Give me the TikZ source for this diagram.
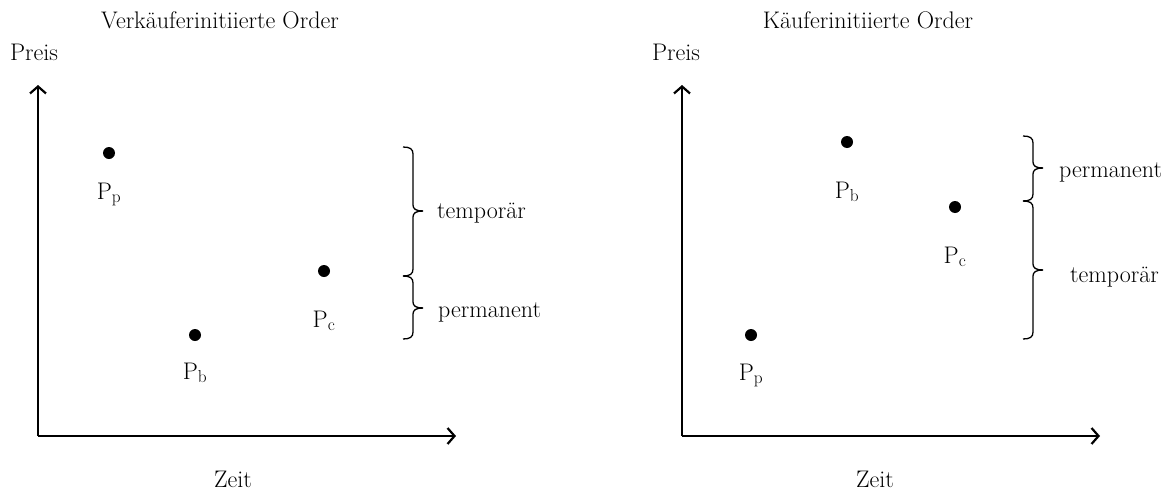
\documentclass[tikz,border=0pt]{standalone}
\usetikzlibrary{arrows.meta}
\newcommand{\vbrc}[4]{%
  \draw[brc] (#1-10,#2) .. controls (#1-3,#2) and (#1,#2+2) .. (#1,#2+7) -- (#1,#3-6) .. controls (#1,#3-2) and (#1+3,#3) .. (#1+10,#3);
  \draw[brc] (#1+10,#3) .. controls (#1+3,#3) and (#1,#3+2) .. (#1,#3+6) -- (#1,#4-7) .. controls (#1,#4-2) and (#1-3,#4) .. (#1-10,#4);}
\begin{document}
\begin{tikzpicture}[x=1pt,y=-1pt,
  txt/.style={font=\fontsize{24}{28}\selectfont, inner sep=0pt, anchor=base},
  lbl/.style={txt, anchor=base west},
  dot/.style={circle, fill=black, minimum size=12pt, inner sep=0pt},
  axis/.style={line width=2.2pt, -{Straight Barb[length=7pt,width=16pt]}},
  brc/.style={line width=1.3pt}]
\useasboundingbox (0,0) rectangle (1173,490);
% ---------- left panel ----------
\node[txt] (t1) at (220,28) {Verkäuferinitiierte Order};
\node[txt] (py1) at (34,60) {Preis};
\node[txt] (z1) at (233,487) {Zeit};
\coordinate (o1) at (38,436);
\coordinate (yt1) at (38,85);
\coordinate (xt1) at (456,436);
\draw[axis] (o1) -- (yt1);
\draw[axis] (o1) -- (xt1);
\node[dot] (pp1) at (109,153) {};
\node[dot] (pb1) at (195,335) {};
\node[dot] (pc1) at (324,271) {};
\node[txt] (lpp1) at (109,199) {P$_{\mathrm{p}}$};
\node[txt] (lpb1) at (195,379) {P$_{\mathrm{b}}$};
\node[txt] (lpc1) at (324,327) {P$_{\mathrm{c}}$};
\vbrc{413}{147}{211}{276}
\vbrc{413}{276}{308}{339}
\node[lbl] (tmp1) at (437,218) {temporär};
\node[lbl] (prm1) at (438,317) {permanent};
% ---------- right panel ----------
\node[txt] (t2) at (868,28) {Käuferinitiierte Order};
\node[txt] (py2) at (676,60) {Preis};
\node[txt] (z2) at (875,487) {Zeit};
\coordinate (o2) at (682,436);
\coordinate (yt2) at (682,85);
\coordinate (xt2) at (1100,436);
\draw[axis] (o2) -- (yt2);
\draw[axis] (o2) -- (xt2);
\node[dot] (pb2) at (847,142) {};
\node[dot] (pc2) at (955,207) {};
\node[dot] (pp2) at (751,335) {};
\node[txt] (lpb2) at (847,198) {P$_{\mathrm{b}}$};
\node[txt] (lpc2) at (955,263) {P$_{\mathrm{c}}$};
\node[txt] (lpp2) at (751,380) {P$_{\mathrm{p}}$};
\vbrc{1033}{136}{168}{201}
\vbrc{1033}{201}{270}{339}
\node[lbl] (prm2) at (1059,177) {permanent};
\node[lbl] (tmp2) at (1070,282) {temporär};
\end{tikzpicture}
\end{document}
